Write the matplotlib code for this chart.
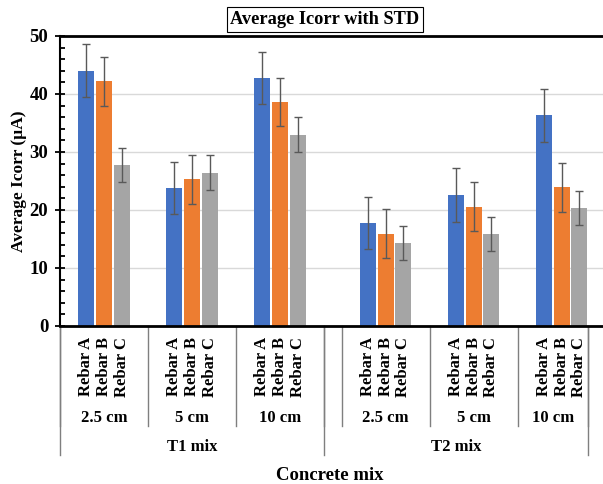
import matplotlib
matplotlib.use("Agg")
import matplotlib.pyplot as plt
import matplotlib.transforms as mtransforms
from matplotlib.ticker import MultipleLocator
import numpy as np

plt.rcParams['font.family'] = ['Liberation Serif', 'DejaVu Serif']
plt.rcParams['font.weight'] = 'bold'

mixes = ['T1 mix', 'T2 mix']
covers = ['2.5 cm', '5 cm', '10 cm']
rebars = ['Rebar A', 'Rebar B', 'Rebar C']
rebar_a = [44.0, 23.8, 42.7, 17.8, 22.6, 36.3]
rebar_b = [42.2, 25.3, 38.6, 15.9, 20.6, 23.9]
rebar_c = [27.7, 26.4, 33.0, 14.3, 15.9, 20.3]
std_a = [4.6, 4.5, 4.5, 4.5, 4.6, 4.5]
std_b = [4.2, 4.2, 4.15, 4.2, 4.25, 4.2]
std_c = [2.95, 3.0, 2.95, 3.0, 2.9, 2.95]

W, H = 603, 484
fig = plt.figure(figsize=(W / 100, H / 100), dpi=100)
ax = fig.add_axes([60 / W, (H - 326) / H, (W - 60) / W, 290 / H])

gap = 0.2
centers = np.array([k + m * (len(covers) + gap) for m in range(len(mixes)) for k in range(len(covers))])
colors = ['#4472C4', '#ED7D31', '#A5A5A5']
series = [rebar_a, rebar_b, rebar_c]
stds = [std_a, std_b, std_c]
offsets = [-0.2, 0.0, 0.2]
bw = 0.18

tick_pos, tick_lab = [], []
for vals, sd, col, off, name in zip(series, stds, colors, offsets, rebars):
    ax.bar(centers + off, vals, width=bw, color=col, edgecolor='none', zorder=2)
    ax.errorbar(centers + off, vals, yerr=sd, fmt='none', ecolor='#595959',
                elinewidth=1, capsize=3, capthick=1, zorder=3)
    tick_pos.extend(list(centers + off))
    tick_lab.extend([name] * len(centers))

ax.set_ylim(0, 50)
ax.set_xlim(-0.5, -0.5 + (W - 60) / 88)
ax.yaxis.set_major_locator(MultipleLocator(10))
ax.yaxis.set_minor_locator(MultipleLocator(2))
ax.grid(axis='y', color='#D9D9D9', linewidth=1, zorder=0)
ax.set_axisbelow(True)
ax.spines['right'].set_visible(False)
ax.spines['left'].set_linewidth(1.5)
ax.spines['bottom'].set_linewidth(2)
ax.spines['top'].set_linewidth(2)
ax.tick_params(axis='y', which='major', direction='inout', length=7, width=1.3,
               labelsize=13.5, pad=5)
ax.tick_params(axis='y', which='minor', direction='in', length=3.5, width=1.3)
for lab in ax.get_yticklabels():
    lab.set_fontweight('bold')

ax.set_xticks(tick_pos)
ax.set_xticklabels(tick_lab, rotation=90, fontsize=12, fontweight='bold', va='top', ha='center')
ax.tick_params(axis='x', length=0, pad=8)

ax.set_ylabel('Average Icorr (µA)', fontsize=12.5, fontweight='bold', labelpad=2)

trans = mtransforms.blended_transform_factory(ax.transData, fig.transFigure)
def fy(px):
    return 1 - px / H

short_div = [-0.5, 0.5, 1.5, 2.5, 2.7, 3.7, 4.7, 5.5]
long_div = [-0.5, 2.5, 5.5]
for x in short_div:
    ax.plot([x, x], [fy(326), fy(426)], transform=trans, color='#7F7F7F', lw=1, clip_on=False)
for x in long_div:
    ax.plot([x, x], [fy(326), fy(455)], transform=trans, color='#7F7F7F', lw=1, clip_on=False)

cover_bounds = [(-0.5, 0.5), (0.5, 1.5), (1.5, 2.5), (2.7, 3.7), (3.7, 4.7), (4.7, 5.5)]
for i, (a, b) in enumerate(cover_bounds):
    ax.text((a + b) / 2, fy(418), covers[i % 3], transform=trans, ha='center', va='center',
            fontsize=12, fontweight='bold')
mix_bounds = [(-0.5, 2.5), (2.5, 5.5)]
for name, (a, b) in zip(mixes, mix_bounds):
    ax.text((a + b) / 2, fy(447), name, transform=trans, ha='center', va='center',
            fontsize=12, fontweight='bold')

fig.text(330 / W, fy(475), 'Concrete mix', ha='center', va='center', fontsize=13.5, fontweight='bold')

fig.text(325 / W, fy(19.5), 'Average Icorr with STD', ha='center', va='center', fontsize=13.2,
         fontweight='bold',
         bbox=dict(boxstyle='square,pad=0.2', facecolor='white', edgecolor='black', linewidth=0.8))

fig.savefig('out.png', dpi=100)
